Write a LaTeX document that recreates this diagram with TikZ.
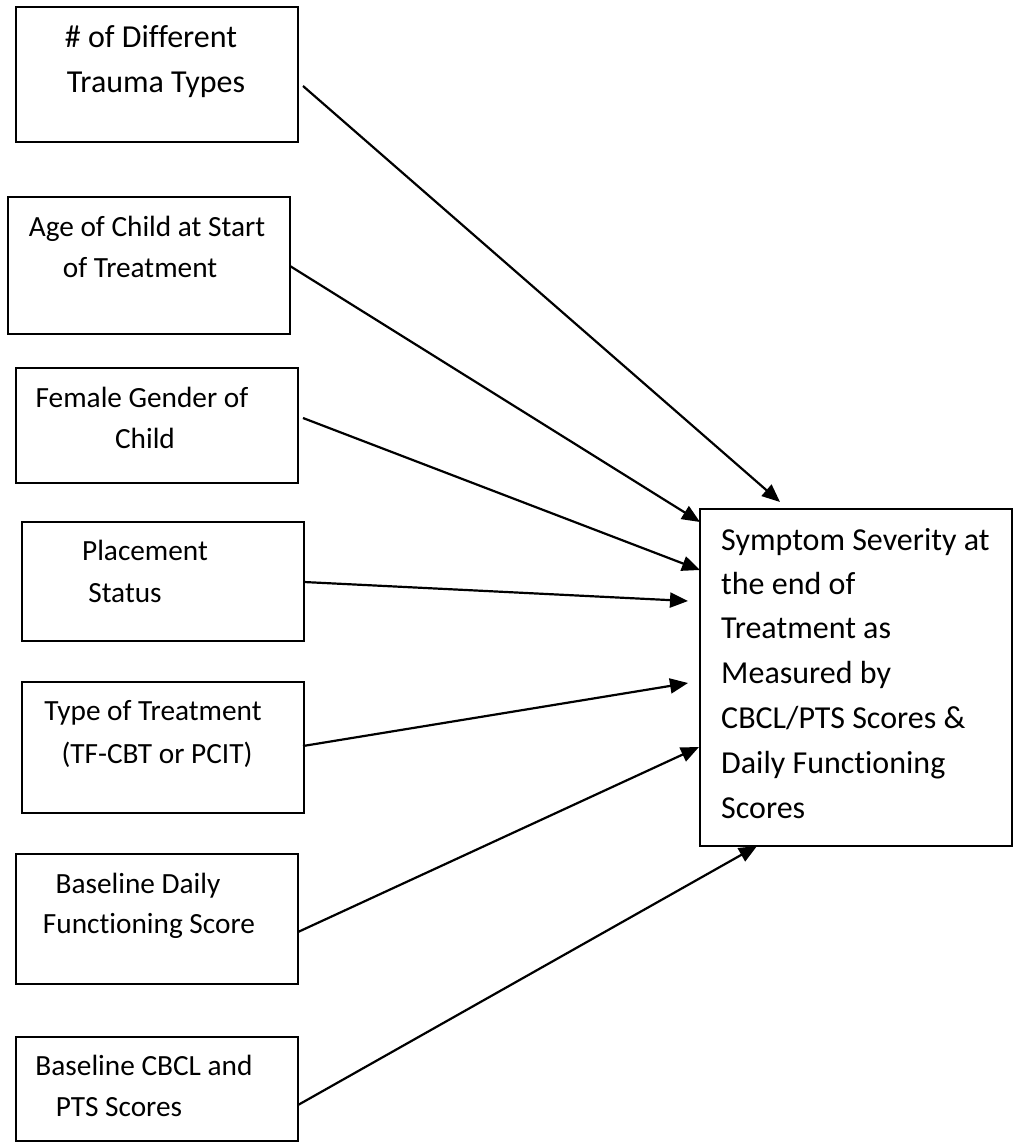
\documentclass[tikz,border=0pt]{standalone}
\usepackage{fontspec}
\setmainfont{Carlito}[RawFeature={-liga}]
\usetikzlibrary{arrows.meta}
\begin{document}
\begin{tikzpicture}[x=1pt,y=-1pt,
  box/.style={draw,line width=1.3pt,inner sep=0pt,outer sep=0pt,minimum width=282pt},
  lbl/.style={anchor=base,inner sep=0pt,font=\fontsize{29.3}{34}\selectfont},
  biglbl/.style={anchor=base,inner sep=0pt,font=\fontsize{32}{36}\selectfont},
  tlbl/.style={anchor=base west,inner sep=0pt,font=\fontsize{32}{36}\selectfont},
  arr/.style={line width=2.2pt,-{Triangle[length=18pt,width=15pt]}}]
\useasboundingbox (0,0) rectangle (1014,1142);
% boxes
\node[box,minimum height=135pt] (b1) at (157,74.5) {};
\node[box,minimum height=137pt] (b2) at (149,265.5) {};
\node[box,minimum height=115pt] (b3) at (157,425.5) {};
\node[box,minimum height=119pt] (b4) at (163,581.5) {};
\node[box,minimum height=131pt] (b5) at (163,747.5) {};
\node[box,minimum height=130pt] (b6) at (157,919) {};
\node[box,minimum height=104pt] (b7) at (157,1089) {};
\node[box,minimum width=312pt,minimum height=337pt] (tg) at (856,677.5) {};
% labels
\node[biglbl] (l1a) at (151,48) {\# of Different};
\node[biglbl] (l1b) at (156,93) {Trauma Types};
\node[lbl] (l2a) at (147,236) {Age of Child at Start};
\node[lbl] (l2b) at (140,277) {of Treatment};
\node[lbl] (l3a) at (142,407) {Female Gender of};
\node[lbl] (l3b) at (145,448) {Child};
\node[lbl] (l4a) at (145,560) {Placement};
\node[lbl] (l4b) at (125,602) {Status};
\node[lbl] (l5a) at (153,720) {Type of Treatment};
\node[lbl] (l5b) at (157,763) {(TF-CBT or PCIT)};
\node[lbl] (l6a) at (138,893) {Baseline Daily};
\node[lbl] (l6b) at (149,933) {Functioning Score};
\node[lbl] (l7a) at (144,1075) {Baseline CBCL and};
\node[lbl] (l7b) at (119,1116) {PTS Scores};
\node[tlbl] (t1) at (721,550) {Symptom Severity at};
\node[tlbl] (t2) at (721,594) {the end of};
\node[tlbl] (t3) at (721,638) {Treatment as};
\node[tlbl] (t4) at (721,683) {Measured by};
\node[tlbl] (t5) at (721,728) {CBCL/PTS Scores \&};
\node[tlbl] (t6) at (721,773) {Daily Functioning};
\node[tlbl] (t7) at (721,818) {Scores};
% connector ends
\coordinate (s1) at (303,86);   \coordinate (e1) at (780,502);
\coordinate (s2) at (290,266);  \coordinate (e2) at (700,522);
\coordinate (s3) at (303,418);  \coordinate (e3) at (700,570);
\coordinate (s4) at (304,582);  \coordinate (e4) at (688,601);
\coordinate (s5) at (303,746);  \coordinate (e5) at (688,683);
\coordinate (s6) at (298,932);  \coordinate (e6) at (699,747);
\coordinate (s7) at (298,1105); \coordinate (e7) at (757,846);
\draw[arr] (s1) -- (e1);
\draw[arr] (s2) -- (e2);
\draw[arr] (s3) -- (e3);
\draw[arr] (s4) -- (e4);
\draw[arr] (s5) -- (e5);
\draw[arr] (s6) -- (e6);
\draw[arr] (s7) -- (e7);
\end{tikzpicture}
\end{document}
